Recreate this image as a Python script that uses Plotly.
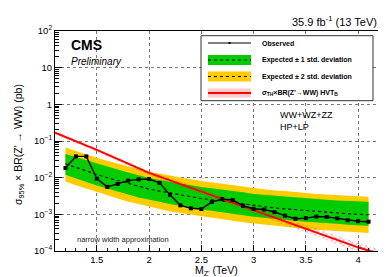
import plotly.graph_objects as go

# ---------------- data ----------------
mass = [1.2, 1.3, 1.4, 1.5, 1.6, 1.7, 1.8, 1.9, 2.0, 2.1, 2.2, 2.3, 2.4, 2.5, 2.6,
        2.7, 2.8, 2.9, 3.0, 3.1, 3.2, 3.3, 3.4, 3.5, 3.6, 3.7, 3.8, 3.9, 4.0, 4.1]

observed = [0.0184, 0.038, 0.038, 0.0094, 0.0056, 0.0067, 0.0083, 0.0090, 0.0092, 0.0072,
            0.0034, 0.00176, 0.00146, 0.0014, 0.00217, 0.0026, 0.00246, 0.00170, 0.00142, 0.00135,
            0.00116, 0.00092, 0.00076, 0.00079, 0.00087, 0.00085, 0.00078, 0.00069, 0.00065, 0.00063]

expected = [0.024, 0.019, 0.0152, 0.0122, 0.0100, 0.0083, 0.0069, 0.0058, 0.0049, 0.0043,
            0.0038, 0.0034, 0.0030, 0.0027, 0.0025, 0.0023, 0.0021, 0.0019, 0.00172, 0.00160,
            0.00150, 0.00141, 0.00133, 0.00126, 0.00120, 0.00114, 0.00109, 0.00104, 0.00100, 0.00097]

exp_p2 = [0.066, 0.053, 0.043, 0.035, 0.029, 0.024, 0.020, 0.0170, 0.0144, 0.0127,
          0.0113, 0.0101, 0.0090, 0.0081, 0.0075, 0.0069, 0.0063, 0.0057, 0.0052, 0.0048,
          0.0045, 0.0043, 0.0040, 0.0038, 0.0036, 0.0035, 0.0033, 0.0032, 0.0031, 0.0030]

exp_p1 = [0.044, 0.036, 0.029, 0.024, 0.020, 0.0166, 0.0138, 0.0116, 0.0098, 0.0087,
          0.0077, 0.0069, 0.0062, 0.0056, 0.0052, 0.0048, 0.0044, 0.0040, 0.0036, 0.0034,
          0.0032, 0.0030, 0.0029, 0.0027, 0.0026, 0.0025, 0.0024, 0.0023, 0.0022, 0.0022]

exp_m1 = [0.0120, 0.0095, 0.0076, 0.0061, 0.0050, 0.0042, 0.0035, 0.0029, 0.0025, 0.0022,
          0.0019, 0.0017, 0.0015, 0.00135, 0.00125, 0.00115, 0.00105, 0.00095, 0.00086, 0.00080,
          0.00075, 0.00071, 0.00067, 0.00063, 0.00060, 0.00057, 0.00055, 0.00052, 0.00050, 0.00049]

exp_m2 = [0.0078, 0.0062, 0.0050, 0.0040, 0.0033, 0.0027, 0.0022, 0.0019, 0.0016, 0.0014,
          0.0012, 0.0011, 0.00097, 0.00087, 0.00080, 0.00074, 0.00067, 0.00061, 0.00055, 0.00051,
          0.00048, 0.00045, 0.00043, 0.00040, 0.00038, 0.00036, 0.00035, 0.00033, 0.00032, 0.00031]

theory_mass = [1.1, 1.5, 2.0, 2.5, 3.0, 3.5, 4.0, 4.2]
theory = [0.17, 0.057, 0.0135, 0.0042, 0.00132, 0.00041, 0.000126, 0.000085]
theory_up = [0.186, 0.064, 0.0155, 0.0050, 0.00162, 0.00052, 0.000165, 0.000114]
theory_dn = [0.155, 0.050, 0.0116, 0.0035, 0.00107, 0.00032, 0.000096, 0.000063]

x_ticks = [1.5, 2, 2.5, 3, 3.5, 4]
x_ticklabels = ["1.5", "2", "2.5", "3", "3.5", "4"]
y_ticks = [1e-4, 1e-3, 1e-2, 1e-1, 1, 10, 100]
y_ticklabels = ["10<sup>−4</sup>", "10<sup>−3</sup>", "10<sup>−2</sup>", "10<sup>−1</sup>",
                "1", "10", "10<sup>2</sup>"]

# ---------------- colours ----------------
GREEN = "#00cc00"
YELLOW = "#ffcc00"
RED = "#ff0000"
FONT = "Liberation Sans, Arial, sans-serif"

W, H = 386, 277
ML, MR, MT, MB = 47, 15, 23, 34
PW, PH = W - ML - MR, H - MT - MB


def px(x):
    return (x - ML) / PW


def py(y):
    return (H - MB - y) / PH


fig = go.Figure()

# 2 sigma band
fig.add_trace(go.Scatter(x=mass + mass[::-1], y=exp_p2 + exp_m2[::-1], fill="toself",
                         fillcolor=YELLOW, line=dict(width=0), mode="lines",
                         hoverinfo="skip", showlegend=False))
# 1 sigma band
fig.add_trace(go.Scatter(x=mass + mass[::-1], y=exp_p1 + exp_m1[::-1], fill="toself",
                         fillcolor=GREEN, line=dict(width=0), mode="lines",
                         hoverinfo="skip", showlegend=False))
# expected median
fig.add_trace(go.Scatter(x=mass, y=expected, mode="lines",
                         line=dict(color="black", width=1.1, dash="dot"), showlegend=False))
# theory band
fig.add_trace(go.Scatter(x=theory_mass + theory_mass[::-1], y=theory_up + theory_dn[::-1],
                         fill="toself", fillcolor="rgba(255,190,190,0.45)",
                         fillpattern=dict(shape="x", fgcolor="rgba(255,40,40,0.8)",
                                          bgcolor="rgba(0,0,0,0)", size=4, solidity=0.4),
                         line=dict(width=0), mode="lines", hoverinfo="skip", showlegend=False))
# theory line
fig.add_trace(go.Scatter(x=theory_mass, y=theory, mode="lines",
                         line=dict(color=RED, width=2), showlegend=False))
# observed
fig.add_trace(go.Scatter(x=mass, y=observed, mode="lines+markers",
                         line=dict(color="black", width=1.4),
                         marker=dict(color="black", size=4, symbol="square"), showlegend=False))

shapes = []
annotations = []

# ---------------- manual legend ----------------
shapes.append(dict(type="rect", xref="paper", yref="paper", x0=px(193), x1=px(365),
                   y0=py(92.7), y1=py(27.7), line=dict(color="#333", width=1),
                   fillcolor="white", layer="above"))
lx0, lx1 = px(200), px(243)
# observed
shapes.append(dict(type="line", xref="paper", yref="paper", x0=lx0, x1=lx1, y0=py(35), y1=py(35),
                   line=dict(color="black", width=1.2), layer="above"))
shapes.append(dict(type="rect", xref="paper", yref="paper", x0=px(220.5), x1=px(222.5),
                   y0=py(36), y1=py(34), fillcolor="black", line=dict(width=0), layer="above"))
# green
shapes.append(dict(type="rect", xref="paper", yref="paper", x0=lx0, x1=lx1, y0=py(57), y1=py(47),
                   fillcolor=GREEN, line=dict(width=0), layer="above"))
shapes.append(dict(type="line", xref="paper", yref="paper", x0=lx0, x1=lx1, y0=py(52), y1=py(52),
                   line=dict(color="black", width=1, dash="dot"), layer="above"))
# yellow
shapes.append(dict(type="rect", xref="paper", yref="paper", x0=lx0, x1=lx1, y0=py(73.5), y1=py(63.5),
                   fillcolor=YELLOW, line=dict(width=0), layer="above"))
shapes.append(dict(type="line", xref="paper", yref="paper", x0=lx0, x1=lx1, y0=py(68.5), y1=py(68.5),
                   line=dict(color="black", width=1, dash="dot"), layer="above"))
# theory
shapes.append(dict(type="rect", xref="paper", yref="paper", x0=lx0, x1=lx1, y0=py(89.5), y1=py(80.5),
                   fillcolor="rgba(255,170,170,0.6)", line=dict(width=0), layer="above"))
shapes.append(dict(type="line", xref="paper", yref="paper", x0=lx0, x1=lx1, y0=py(85), y1=py(85),
                   line=dict(color=RED, width=2), layer="above"))

leg_font = dict(family=FONT, size=7, color="black")
for txt, yy in [("<b>Observed</b>", 35), ("<b>Expected ± 1 std. deviation</b>", 52),
                ("<b>Expected ± 2 std. deviation</b>", 68.5),
                ("<b>σ<sub>TH</sub>×BR(Z'→WW) HVT<sub>B</sub></b>", 85)]:
    annotations.append(dict(x=px(252), y=py(yy), xref="paper", yref="paper", text=txt,
                            showarrow=False, xanchor="left", yanchor="middle", font=leg_font))

# ---------------- texts ----------------
annotations += [
    dict(x=px(61), y=py(37), xref="paper", yref="paper", text="<b>CMS</b>", showarrow=False,
         xanchor="left", yanchor="middle", font=dict(family=FONT, size=14, color="black")),
    dict(x=px(61), y=py(54), xref="paper", yref="paper", text="<i>Preliminary</i>", showarrow=False,
         xanchor="left", yanchor="middle", font=dict(family=FONT, size=10, color="black")),
    dict(x=px(371), y=py(13), xref="paper", yref="paper", text="35.9 fb<sup>-1</sup> (13 TeV)",
         showarrow=False, xanchor="right", yanchor="middle",
         font=dict(family=FONT, size=11, color="black")),
    dict(x=px(270), y=py(107), xref="paper", yref="paper", text="WW+WZ+ZZ", showarrow=False,
         xanchor="left", yanchor="middle", font=dict(family=FONT, size=9, color="black")),
    dict(x=px(270), y=py(119.5), xref="paper", yref="paper", text="HP+LP", showarrow=False,
         xanchor="left", yanchor="middle", font=dict(family=FONT, size=9, color="black")),
    dict(x=px(67), y=py(231), xref="paper", yref="paper", text="narrow width approximation",
         showarrow=False, xanchor="left", yanchor="middle",
         font=dict(family=FONT, size=7.5, color="#222")),
    dict(x=px(208), y=py(262.5), xref="paper", yref="paper", text="M<sub>Z'</sub> (TeV)",
         showarrow=False, xanchor="center", yanchor="middle",
         font=dict(family=FONT, size=10.5, color="black")),
    dict(x=px(11), y=py(137), xref="paper", yref="paper",
         text="σ<sub>95%</sub> × BR(Z' → WW) (pb)", textangle=-90, showarrow=False,
         xanchor="center", yanchor="middle", font=dict(family=FONT, size=10.5, color="black")),
]

y_minor = []
for e in range(-4, 2):
    for m in range(2, 10):
        y_minor.append(m * 10 ** e)
x_minor = [round(1.1 + 0.1 * i, 2) for i in range(32)]

fig.update_layout(
    width=W, height=H, margin=dict(l=ML, r=MR, t=MT, b=MB),
    paper_bgcolor="white", plot_bgcolor="white",
    showlegend=False, shapes=shapes, annotations=annotations,
    font=dict(family=FONT, color="black"),
    xaxis=dict(range=[1.1, 4.2], tickvals=x_ticks, ticktext=x_ticklabels,
               ticks="inside", ticklen=6, tickcolor="black", tickwidth=1,
               showline=True, linecolor="black", linewidth=1, mirror=True,
               showgrid=True, gridcolor="#777", griddash="dot", gridwidth=1,
               tickfont=dict(family=FONT, size=9.5), zeroline=False,
               minor=dict(tickvals=x_minor, ticks="inside", ticklen=3, tickcolor="black",
                          showgrid=False)),
    yaxis=dict(type="log", range=[-4, 2], tickvals=y_ticks, ticktext=y_ticklabels,
               ticks="inside", ticklen=7, tickcolor="black", tickwidth=1,
               showline=True, linecolor="black", linewidth=1, mirror=True,
               showgrid=True, gridcolor="#777", griddash="dot", gridwidth=1,
               tickfont=dict(family=FONT, size=9.5), zeroline=False,
               minor=dict(tickvals=y_minor, ticks="inside", ticklen=4, tickcolor="black",
                          showgrid=False)),
)

fig.write_html("out.html")
